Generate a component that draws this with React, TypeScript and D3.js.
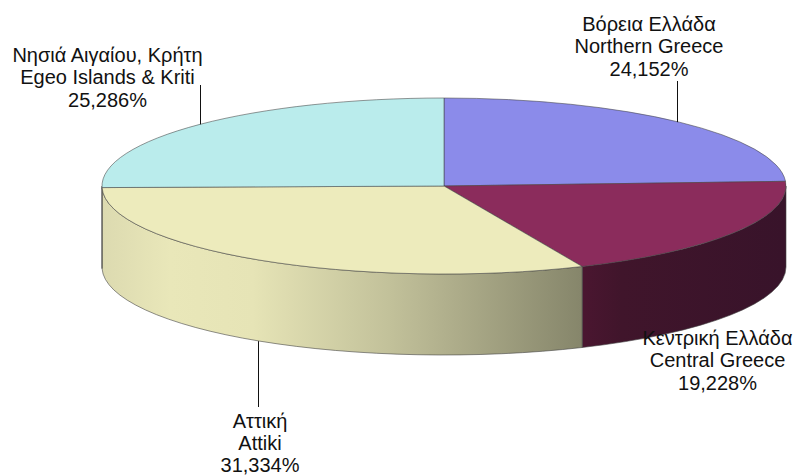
import React from "react";
import * as d3 from "d3";

const namesGreek = ["Βόρεια Ελλάδα", "Κεντρική Ελλάδα", "Αττική", "Νησιά Αιγαίου, Κρήτη"];
const namesLatin = ["Northern Greece", "Central Greece", "Attiki", "Egeo Islands & Kriti"];
const shares = [24.152, 19.228, 31.334, 25.286];
const topColors = ["#8b8bea", "#8b2c5c", "#edebbc", "#baecec"];

const width = 797;
const height = 475;
const cx = 444;
const cy = 186;
const rx = 342;
const ry = 88;
const depth = 81;

// one gradient per visible wall, offsets run along x over the whole pie
const wallStops = [
  [["0%", "#3a1428"], ["100%", "#3a1428"]],
  [["70.5%", "#4a1630"], ["76%", "#40152b"], ["100%", "#38132a"]],
  [["0%", "#dcdab0"], ["10%", "#e9e7b9"], ["22%", "#e6e4b6"], ["42%", "#c2c19a"], ["50%", "#b1b08d"], ["70.5%", "#85856a"]],
  [["0%", "#dcdab0"], ["100%", "#dcdab0"]],
];

// label block: centre x and baseline of first line
const labelPos = [
  [649, 31],
  [717.5, 345],
  [260, 427.5],
  [107.5, 62],
];
const lineStep = 22.4;
// leaders: end y of the vertical line, nudge off the slice's mid angle
const leaderEnd = [81, null, 407, 85];
const leaderNudge = [-2, 0, -2, 0];

const pieGen = d3.pie<number>().sort(null).value((d) => d);
const slices = pieGen(shares);

const px = (a: number) => cx + rx * Math.sin(a);
const py = (a: number) => cy - ry * Math.cos(a);

const arcGen = d3.arc<d3.PieArcDatum<number>>().innerRadius(0).outerRadius(rx);

const wallPath = (start: number, end: number) => {
  const a0 = Math.max(start, Math.PI / 2);
  const a1 = Math.min(end, (3 * Math.PI) / 2);
  if (a1 <= a0) return null;
  return (
    `M${px(a0)},${py(a0)}` +
    `A${rx},${ry} 0 0 1 ${px(a1)},${py(a1)}` +
    `L${px(a1)},${py(a1) + depth}` +
    `A${rx},${ry} 0 0 0 ${px(a0)},${py(a0) + depth}Z`
  );
};

export default function App() {
  return (
    <svg
      width={width}
      height={height}
      style={{ position: "absolute", left: 0, top: 0, background: "#fff" }}
      fontFamily="'Liberation Sans', Arial, sans-serif"
    >
      <defs>
        {wallStops.map((stops, i) => (
          <linearGradient
            key={i}
            id={`wall-${i}`}
            gradientUnits="userSpaceOnUse"
            x1={cx - rx}
            x2={cx + rx}
            y1={0}
            y2={0}
          >
            {stops.map(([o, c]) => (
              <stop key={o} offset={o} stopColor={c} />
            ))}
          </linearGradient>
        ))}
      </defs>

      {slices.map((s, i) => {
        const d = wallPath(s.startAngle, s.endAngle);
        return d ? (
          <path key={i} d={d} fill={`url(#wall-${i})`} stroke="#444" strokeOpacity={0.75} strokeWidth={0.8} />
        ) : null;
      })}

      <g transform={`translate(${cx},${cy}) scale(1,${ry / rx})`}>
        {slices.map((s, i) => (
          <path
            key={i}
            d={arcGen(s) as string}
            fill={topColors[i]}
            stroke="#444"
            strokeOpacity={0.7}
            strokeWidth={0.8}
            vectorEffect="non-scaling-stroke"
          />
        ))}
      </g>

      {slices.map((s, i) => {
        const end = leaderEnd[i];
        if (end === null) return null;
        const mid = (s.startAngle + s.endAngle) / 2;
        const front = Math.cos(mid) < 0;
        const x = Math.round(px(mid) + leaderNudge[i]) + 0.5;
        return (
          <line
            key={i}
            x1={x}
            x2={x}
            y1={py(mid) + (front ? depth : 0)}
            y2={end}
            stroke="#111"
            strokeWidth={1}
          />
        );
      })}

      {shares.map((v, i) => (
        <text key={i} textAnchor="middle" fontSize={20} fill="#111">
          <tspan x={labelPos[i][0]} y={labelPos[i][1]}>{namesGreek[i]}</tspan>
          <tspan x={labelPos[i][0]} y={labelPos[i][1] + lineStep}>{namesLatin[i]}</tspan>
          <tspan x={labelPos[i][0]} y={labelPos[i][1] + lineStep * 2}>{d3.format(".3f")(v).replace(".", ",")}%</tspan>
        </text>
      ))}
    </svg>
  );
}
